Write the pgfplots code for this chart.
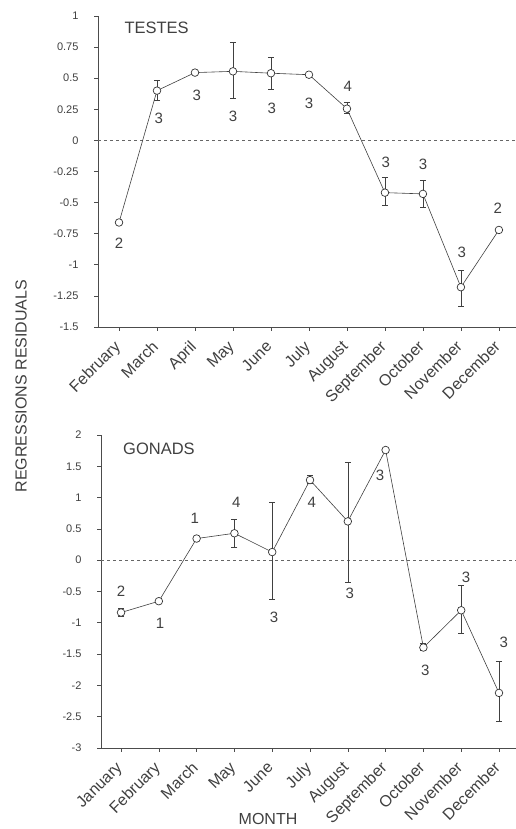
\documentclass[border=0pt]{standalone}
\usepackage{fontspec}
\setmainfont{Liberation Sans}
\usepackage{pgfplots}
\pgfplotsset{compat=1.18}
\pgfplotstableread{
x y ep em
0 -0.66 0 0
1 0.40 0.08 0.08
2 0.545 0 0
3 0.555 0.235 0.215
4 0.54 0.125 0.13
5 0.528 0 0
6 0.255 0.05 0.04
7 -0.42 0.12 0.10
8 -0.43 0.11 0.11
9 -1.18 0.135 0.15
10 -0.72 0 0
}\testes
\pgfplotstableread{
x y t
0 -0.83 2
1.05 0.177 3
2.05 0.36 3
3 0.19 3
4.02 0.257 3
5 0.30 3
6.02 0.434 4
7.02 -0.177 3
8 -0.19 3
9.02 -0.90 3
9.97 -0.547 2
}\testeslab
\pgfplotstableread{
x y ep em
0 -0.836 0.06 0.06
1 -0.655 0 0
2 0.346 0 0
3 0.43 0.22 0.22
4 0.13 0.80 0.75
5 1.28 0.08 0.05
6 0.62 0.95 0.97
7 1.76 0 0
8 -1.395 0.07 0.05
9 -0.80 0.40 0.37
10 -2.12 0.50 0.46
}\gonads
\pgfplotstableread{
x y t
0 -0.49 2
1.03 -1.01 1
1.95 0.666 1
3.05 0.93 4
4.05 -0.905 3
5.05 0.93 4
6.05 -0.53 3
6.85 1.36 3
8.05 -1.76 3
9.13 -0.27 3
10.13 -1.305 3
}\gonadslab
\pgfplotsset{resid/.style={
  scale only axis,
  axis x line*=bottom, axis y line*=left,
  axis line style={black!70, line width=0.8pt, -},
  tick style={black!70, line width=0.6pt},
  tick align=outside,
  major tick length=4pt,
  xtick={0,...,10},
  xticklabel style={xshift=-6pt, yshift=-7pt, rotate=45, anchor=north east, font=\fontsize{16}{16}\selectfont, text=black!75, inner sep=1pt},
  yticklabel style={font=\fontsize{11}{11}\selectfont, text=black!75, xshift=-12pt},
  /pgf/number format/assume math mode=true,
  clip=false,
},
dataline/.style={black!75, line width=0.6pt, mark=*, mark size=3.8pt,
  mark options={fill=white, draw=black!80, line width=0.7pt},
  error bars/y dir=both, error bars/y explicit,
  error bars/error bar style={line width=0.6pt, black!75},
  error bars/error mark options={rotate=90, mark size=3pt, line width=0.6pt, black!75}},
countlab/.style={draw=none, mark=none, nodes near coords, point meta=explicit symbolic,
  nodes near coords style={anchor=center, font=\fontsize{15}{15}\selectfont, text=black!75}}}
\begin{document}
\begin{tikzpicture}[x=1pt,y=1pt]
\path[use as bounding box] (0,0) rectangle (516,829);
\begin{axis}[resid, at={(98pt,502pt)}, anchor=south west, width=418pt, height=311pt,
  xmin=-0.553, xmax=10.45, ymin=-1.5, ymax=1,
  ytick={-1.5,-1.25,-1,-0.75,-0.5,-0.25,0,0.25,0.5,0.75,1},
  xticklabels={February,March,April,May,June,July,August,September,October,November,December}]
\addplot[black!60, dashed, line width=0.6pt] coordinates {(-0.553,0) (10.45,0)};
\addplot[dataline] table[x=x,y=y,y error plus=ep,y error minus=em] {\testes};
\addplot[countlab] table[x=x,y=y,meta=t] {\testeslab};
\node[anchor=west, font=\fontsize{16.5}{16.5}\selectfont, text=black!75] at (rel axis cs:0.055,0.961) {TESTES};
\end{axis}
\begin{axis}[resid, at={(101pt,81pt)}, anchor=south west, width=415pt, height=313pt,
  xmin=-0.53, xmax=10.45, ymin=-3, ymax=2,
  ytick={-3,-2.5,-2,-1.5,-1,-0.5,0,0.5,1,1.5,2},
  xticklabels={January,February,March,May,June,July,August,September,October,November,December}]
\addplot[black!60, dashed, line width=0.6pt] coordinates {(-0.53,0) (10.45,0)};
\addplot[dataline] table[x=x,y=y,y error plus=ep,y error minus=em] {\gonads};
\addplot[countlab] table[x=x,y=y,meta=t] {\gonadslab};
\node[anchor=west, font=\fontsize{16.5}{16.5}\selectfont, text=black!75] at (rel axis cs:0.045,0.955) {GONADS};
\end{axis}
\node[rotate=90, font=\fontsize{16}{16}\selectfont, text=black!75] at (21,443) {REGRESSIONS RESIDUALS};
\node[font=\fontsize{16}{16}\selectfont, text=black!75] at (268,10) {MONTH};
\end{tikzpicture}
\end{document}
